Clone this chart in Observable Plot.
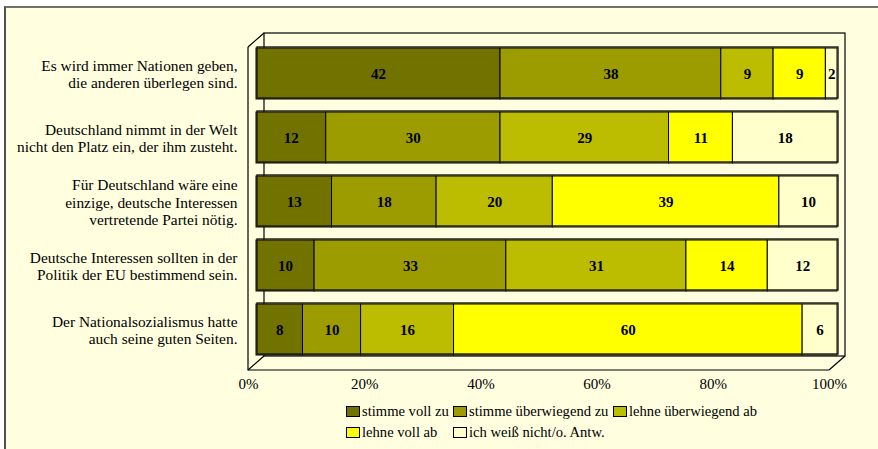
<!DOCTYPE html>
<html><head><meta charset="utf-8">
<script src="https://cdn.jsdelivr.net/npm/d3@7"></script>
<script src="https://cdn.jsdelivr.net/npm/@observablehq/plot@0.6"></script>
<style>
html,body{margin:0;padding:0;background:#fff;}
#wrap{position:relative;width:878px;height:449px;overflow:hidden;font-family:"Liberation Serif","Times New Roman",serif;}
#bg{position:absolute;left:4px;top:6px;width:900px;height:460px;background:#FFFFE0;border-top:2px solid #707070;border-left:2px solid #505050;}
#chart{position:absolute;left:0;top:0;}
#legend{position:absolute;left:346px;top:401px;display:grid;grid-template-columns:107px 160px auto;font-size:14.6px;line-height:21px;color:#000;white-space:nowrap;}
#legend span.sw{display:inline-block;width:12px;height:9px;border:1px solid #000;margin-right:2px;vertical-align:-1px;}
</style>
</head><body>
<div id="wrap"><div id="bg"></div><div id="chart"></div><div id="legend"></div></div>
<script>
const questions = [
  "Es wird immer Nationen geben,\ndie anderen überlegen sind.",
  "Deutschland nimmt in der Welt\nnicht den Platz ein, der ihm zusteht.",
  "Für Deutschland wäre eine\neinzige, deutsche Interessen\nvertretende Partei nötig.",
  "Deutsche Interessen sollten in der\nPolitik der EU bestimmend sein.",
  "Der Nationalsozialismus hatte\nauch seine guten Seiten."
];
const responses = ["stimme voll zu","stimme überwiegend zu","lehne überwiegend ab","lehne voll ab","ich weiß nicht/o. Antw."];
const colors = ["#727200","#9c9c00","#bcbc00","#ffff00","#ffffcc"];
const stimmeVollZu = [42, 12, 13, 10, 8];
const stimmeUeberwiegendZu = [38, 30, 18, 33, 10];
const lehneUeberwiegendAb = [9, 29, 20, 31, 16];
const lehneVollAb = [9, 11, 39, 14, 60];
const weissNicht = [2, 18, 10, 12, 6];
const xTicks = [0, 20, 40, 60, 80, 100];

const series = [stimmeVollZu, stimmeUeberwiegendZu, lehneUeberwiegendAb, lehneVollAb, weissNicht];
const data = [];
questions.forEach((q, i) => series.forEach((s, j) => data.push({q, r: responses[j], value: s[i]})));

const DX = 8, DY = 7; // half depth of 3D box

function box3d(index, scales, values, dims) {
  const x0 = scales.x(0), x1 = scales.x(100);
  const y0 = dims.marginTop, y1 = dims.height - dims.marginBottom;
  const g = d3.create("svg:g").attr("fill", "none").attr("stroke", "#000").attr("stroke-width", 1.2);
  g.append("rect").attr("x", x0 + DX).attr("y", y0 - DY).attr("width", x1 - x0).attr("height", y1 - y0);
  g.append("path").attr("d", `M${x0 - DX},${y0 + DY}V${y1 + DY}H${x1 - DX}`);
  g.append("path").attr("d",
    `M${x0 - DX},${y0 + DY}L${x0 + DX},${y0 - DY}` +
    `M${x0 - DX},${y1 + DY}L${x0 + DX},${y1 - DY}` +
    `M${x1 - DX},${y1 + DY}L${x1 + DX},${y1 - DY}`);
  return g.node();
}

const chart = Plot.plot({
  width: 878,
  height: 449,
  marginLeft: 256,
  marginRight: 41,
  marginTop: 40,
  marginBottom: 86,
  style: {background: "transparent", fontFamily: "'Liberation Serif','Times New Roman',serif", fontSize: "15px", color: "#000"},
  x: {domain: [0, 100], label: null},
  y: {domain: questions, paddingInner: 0.21, paddingOuter: 0.105, label: null, axis: null},
  color: {domain: responses, range: colors},
  marks: [
    box3d,
    Plot.barX(data, Plot.stackX({x: "value", y: "q", fill: "r", stroke: "#000", strokeWidth: 1})),
    Plot.barX(data, Plot.groupY({x: "sum"}, {x: "value", y: "q", fill: "none", stroke: "#1a1a10", strokeWidth: 1.4, dx: 1, dy: -1})),
    Plot.text(data, Plot.stackX({x: "value", y: "q", text: d => d.value, fontWeight: "bold", fontSize: 15, fill: "#000"})),
    Plot.text(questions, {y: d => d, text: d => d, frameAnchor: "left", dx: -19, textAnchor: "end", lineHeight: 1.12, fontSize: 15.4, fill: "#000"}),
    Plot.axisX(xTicks, {tickFormat: d => d + "%", tickSize: 0, tickPadding: 8, dx: -DX, dy: DY, fontSize: 15, fill: "#000", label: null})
  ]
});
document.getElementById("chart").appendChild(chart);

const legend = document.getElementById("legend");
responses.forEach((r, i) => {
  const d = document.createElement("div");
  const sw = document.createElement("span");
  sw.className = "sw";
  sw.style.background = colors[i];
  d.appendChild(sw);
  d.appendChild(document.createTextNode(r));
  legend.appendChild(d);
});
legend.children[3].style.gridColumn = "1";
legend.children[4].style.gridColumn = "2";
</script>
</body></html>
